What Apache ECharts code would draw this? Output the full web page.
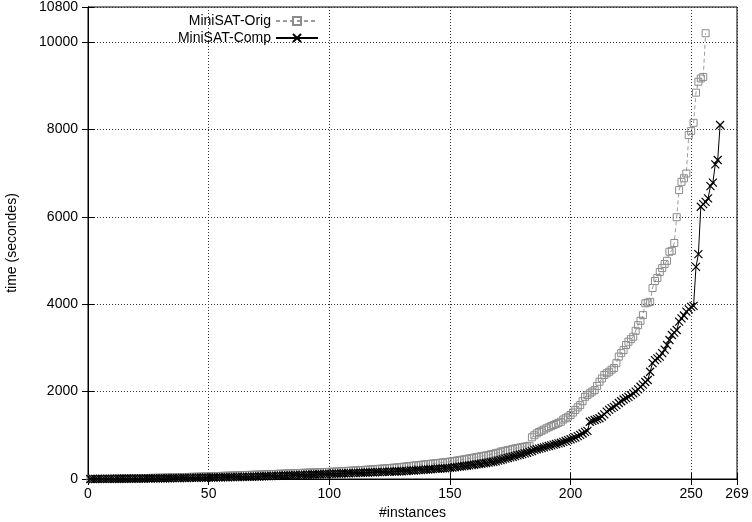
<!DOCTYPE html>
<html>
<head>
<meta charset="utf-8">
<script src="https://cdn.jsdelivr.net/npm/echarts@6/dist/echarts.min.js"></script>
<style>
  html, body { margin: 0; padding: 0; background: #fff; }
  #chart-container { width: 752px; height: 522px; }
</style>
</head>
<body>
<div id="chart-container"></div>
<script>
// temps triés par instance (secondes)
const seriesNames = ['MiniSAT-Orig', 'MiniSAT-Comp'];

const tempsOrig = [
  1, 1, 2, 2, 3, 3, 4, 4, 5, 6,
  7, 8, 9, 10, 11, 12, 13, 14, 15, 16,
  17, 19, 20, 21, 23, 24, 26, 27, 28, 30,
  31, 32, 34, 35, 37, 38, 40, 41, 43, 44,
  46, 47, 49, 50, 52, 54, 55, 57, 59, 61,
  63, 64, 66, 68, 70, 72, 74, 76, 78, 80,
  82, 84, 86, 88, 90, 92, 94, 96, 98, 100,
  102, 104, 106, 108, 110, 112, 114, 117, 119, 121,
  123, 125, 127, 129, 132, 134, 136, 138, 141, 143,
  145, 147, 149, 151, 153, 155, 157, 159, 161, 163,
  166, 169, 172, 175, 178, 181, 184, 187, 190, 193,
  196, 199, 202, 206, 210, 214, 218, 222, 226, 230,
  234, 238, 242, 246, 250, 255, 260, 265, 270, 276,
  282, 288, 294, 300, 306, 312, 318, 324, 330, 336,
  342, 348, 354, 360, 366, 372, 378, 384, 390, 396,
  405, 414, 423, 432, 441, 450, 460, 470, 480, 490,
  500, 510, 520, 530, 540, 552, 564, 576, 588, 600,
  625, 635, 645, 660, 670, 685, 700, 710, 720, 730,
  740, 750, 760, 955, 1000, 1045, 1075, 1105, 1130, 1160,
  1185, 1210, 1235, 1260, 1285, 1310, 1360, 1390, 1425, 1465,
  1520, 1580, 1640, 1690, 1780, 1880, 1920, 1960, 2000, 2035,
  2130, 2225, 2300, 2380, 2420, 2455, 2500, 2540, 2650, 2800,
  2880, 2950, 3065, 3140, 3200, 3255, 3390, 3520, 3620, 3750,
  4020, 4035, 4055, 4370, 4530, 4600, 4735, 4826, 4918, 4993,
  5200, 5220, 5400, 5990, 6610, 6800, 6880, 6990, 7870, 7960,
  8150, 8840, 9090, 9165, 9200, 10200
];

const tempsComp = [
  1, 1, 1, 2, 2, 2, 3, 3, 3, 4,
  4, 5, 5, 6, 6, 7, 7, 8, 8, 9,
  9, 10, 10, 11, 12, 12, 13, 14, 14, 15,
  16, 16, 17, 18, 19, 19, 20, 21, 22, 23,
  24, 25, 26, 27, 28, 29, 30, 31, 32, 33,
  34, 35, 36, 37, 38, 39, 40, 41, 42, 43,
  44, 45, 46, 47, 48, 49, 50, 52, 54, 56,
  58, 60, 62, 64, 66, 68, 70, 72, 74, 76,
  78, 80, 82, 84, 86, 88, 90, 92, 94, 96,
  98, 100, 102, 104, 106, 108, 110, 112, 114, 116,
  118, 120, 122, 124, 126, 128, 130, 132, 134, 136,
  138, 140, 142, 144, 146, 148, 150, 152, 154, 156,
  158, 160, 162, 164, 166, 168, 170, 172, 175, 178,
  181, 184, 187, 190, 194, 198, 202, 206, 210, 214,
  218, 222, 226, 230, 234, 238, 242, 246, 250, 255,
  262, 269, 276, 283, 290, 297, 304, 311, 318, 325,
  333, 341, 349, 357, 365, 375, 385, 395, 405, 420,
  435, 450, 465, 480, 495, 510, 525, 540, 555, 570,
  585, 600, 620, 640, 665, 680, 695, 710, 725, 740,
  755, 770, 785, 800, 815, 830, 850, 870, 890, 910,
  930, 950, 980, 1010, 1040, 1080, 1100, 1310, 1330, 1350,
  1370, 1390, 1430, 1480, 1540, 1580, 1620, 1650, 1690, 1740,
  1780, 1820, 1850, 1880, 1920, 1960, 2000, 2050, 2110, 2160,
  2220, 2265, 2455, 2650, 2720, 2760, 2800, 2880, 2960, 3065,
  3180, 3295, 3350, 3410, 3600, 3675, 3740, 3830, 3880, 3940,
  3960, 4855, 5145, 6230, 6290, 6340, 6420, 6700, 6780, 7200,
  7300, 8100
];

// bornes et pas des axes
const xMin = 0, xMax = 269, xPas = 50;
const yMin = 0, yMax = 10800, yPas = 2000;

const police = 'Liberation Sans';
const croix = 'path://M0,0L10,10M10,0L0,10';

let myChart = echarts.init(document.getElementById('chart-container'), null, { renderer: 'canvas' });

// instance i+1 -> temps
const pointsOrig = tempsOrig.map((v, i) => [i + 1, v]);
const pointsComp = tempsComp.map((v, i) => [i + 1, v]);

const grille = { show: true, lineStyle: { color: '#333', width: 1, type: [1, 2] } };
const ticks = { show: true, inside: true, length: 6, lineStyle: { color: '#000' } };
const sansSeparateur = (v) => String(v);

const options = {
  animation: false,
  backgroundColor: '#fff',
  textStyle: { fontFamily: police },
  grid: {
    left: 88, right: 15, top: 7, bottom: 43,
    outerBoundsMode: 'none', containLabel: false,
    show: true, borderColor: '#000', borderWidth: 1
  },
  legend: [
    {
      data: [seriesNames[0]], right: 433, top: 14, padding: 0,
      align: 'right', itemWidth: 42, itemHeight: 10,
      textStyle: { fontFamily: police, fontSize: 14, color: '#000' }
    },
    {
      data: [seriesNames[1]], right: 433, top: 31, padding: 0,
      align: 'right', itemWidth: 42, itemHeight: 10,
      textStyle: { fontFamily: police, fontSize: 14, color: '#000' }
    }
  ],
  xAxis: [
    {
      type: 'value', min: xMin, max: xMax, interval: xPas,
      name: '#instances', nameLocation: 'middle', nameGap: 26,
      nameTextStyle: { fontFamily: police, fontSize: 14, color: '#000' },
      axisLine: { show: true, lineStyle: { color: '#000' } },
      axisTick: ticks,
      axisLabel: { fontFamily: police, fontSize: 14, color: '#000', margin: 8, formatter: sansSeparateur },
      splitLine: grille
    },
    {
      type: 'value', position: 'top', min: xMin, max: xMax, interval: xPas,
      axisLine: { show: true, lineStyle: { color: '#000' } },
      axisTick: ticks, axisLabel: { show: false }, splitLine: { show: false }
    }
  ],
  yAxis: [
    {
      type: 'value', min: yMin, max: yMax, interval: yPas,
      name: 'time (secondes)', nameLocation: 'middle', nameGap: 69, nameRotate: 90,
      nameTextStyle: { fontFamily: police, fontSize: 14, color: '#000' },
      axisLine: { show: true, lineStyle: { color: '#000' } },
      axisTick: ticks,
      axisLabel: { fontFamily: police, fontSize: 14, color: '#000', margin: 10, formatter: sansSeparateur },
      splitLine: grille
    },
    {
      type: 'value', position: 'right', min: yMin, max: yMax, interval: yPas,
      axisLine: { show: true, lineStyle: { color: '#000' } },
      axisTick: ticks, axisLabel: { show: false }, splitLine: { show: false }
    }
  ],
  series: [
    {
      name: seriesNames[0], type: 'line', data: pointsOrig,
      symbol: 'rect', symbolSize: 7, showAllSymbol: true,
      lineStyle: { color: '#9a9a9a', width: 1, type: [4, 3] },
      itemStyle: { color: 'rgba(255,255,255,0)', borderColor: '#8c8c8c', borderWidth: 1 },
      z: 2
    },
    {
      name: seriesNames[1], type: 'line', data: pointsComp,
      symbol: croix, symbolSize: 8, showAllSymbol: true,
      lineStyle: { color: '#000', width: 1 },
      itemStyle: { color: '#000', borderColor: '#000', borderWidth: 1.2 },
      z: 3
    }
  ]
};

myChart.setOption(options);
window.addEventListener('resize', myChart.resize);
</script>
</body>
</html>
